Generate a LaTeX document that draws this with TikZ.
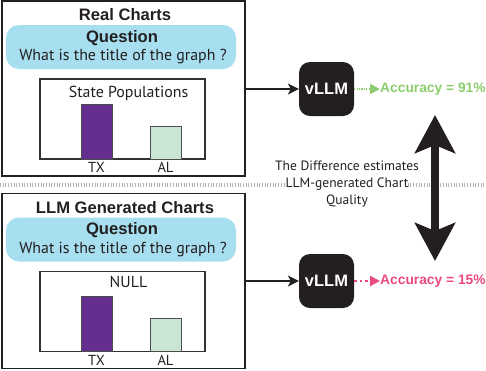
\documentclass[tikz,border=0pt]{standalone}
\usepackage{fontspec}
\setsansfont{Liberation Sans}
\newfontfamily\bodyfont{PT Sans}
\usepackage{xcolor}
\usetikzlibrary{arrows.meta}
\definecolor{bubbleblue}{RGB}{168,223,240}
\definecolor{txpurple}{RGB}{102,45,145}
\definecolor{alsage}{RGB}{201,230,212}
\definecolor{accgreen}{RGB}{140,204,110}
\definecolor{accpink}{RGB}{233,74,130}
\definecolor{inkblack}{RGB}{35,31,32}

\begin{document}
\begin{tikzpicture}[x=1pt,y=-1pt,
  panel/.style={draw=inkblack, line width=1.3pt, minimum width=243pt, minimum height=175pt, inner sep=0pt},
  bubble/.style={fill=bubbleblue, rounded corners=13pt, minimum width=230pt, minimum height=44pt, inner sep=0pt},
  heading/.style={font=\sffamily\bfseries\fontsize{16.6}{18}\selectfont, text=inkblack, inner sep=0pt},
  body/.style={font=\bodyfont\fontsize{15.9}{18}\selectfont, text=inkblack, inner sep=0pt},
  axislabel/.style={font=\bodyfont\fontsize{14.5}{16}\selectfont, text=inkblack, inner sep=0pt},
  chartframe/.style={draw=black!80, line width=1.5pt},
  bar/.style={draw=black!70, line width=1pt},
  vllm/.style={fill=inkblack, rounded corners=11pt, minimum width=55pt, minimum height=54pt, inner sep=0pt,
    text=white, font=\sffamily\bfseries\fontsize{16.5}{18}\selectfont},
  acc/.style={font=\sffamily\bfseries\fontsize{13.8}{15}\selectfont, inner sep=0pt, anchor=west},
  feed/.style={draw=inkblack, line width=1.2pt, -{Stealth[length=11pt,width=11pt,inset=3pt]}},
  score/.style={line width=2pt, -{Triangle[length=10pt,width=10pt]}},
  separator/.style={draw=black!30, line width=4pt, dash pattern=on 1pt off 1.7pt},
  note/.style={font=\bodyfont\fontsize{13.5}{17}\selectfont, text=inkblack, align=center, inner sep=0pt},
  diffarrow/.style={draw=inkblack, line width=8pt,
    {Stealth[length=38pt,width=40pt,inset=8pt]}-{Stealth[length=38pt,width=40pt,inset=8pt]}}
]
\useasboundingbox (0,0) rectangle (486,370);

% the two chart panels
\foreach \oy/\ty/\nm/\ttl/\ctl in {0/93/real/Real Charts/State Populations, 192.5/281.5/gen/LLM Generated Charts/NULL}{
  \node[panel] (\nm-box) at (123.5,88.5+\oy) {};
  \node[heading] (\nm-title) at (125,15+\oy) {\ttl};
  \node[bubble] (\nm-q) at (121,47+\oy) {};
  \node[heading] (\nm-qhead) at (122,38+\oy) {Question};
  \node[body] (\nm-qtext) at (123,57+\oy) {What is the title of the graph ?};
  \draw[chartframe] (40,79+\oy) rectangle (205,159+\oy);
  \node[body] (\nm-ctitle) at (128.5,\ty) {\ctl};
  \draw[bar, fill=txpurple] (81,104+\oy) rectangle (112,159+\oy);
  \draw[bar, fill=alsage] (150,126+\oy) rectangle (181,159+\oy);
  \node[axislabel] (\nm-tx) at (96.5,167.5+\oy) {TX};
  \node[axislabel] (\nm-al) at (165.5,167.5+\oy) {AL};
}

\draw[separator] (0,185) -- (486,185);

% models and scores
\node[vllm] (vllm-real) at (326.5,89) {vLLM};
\node[vllm] (vllm-gen) at (326.5,281) {vLLM};
\node[acc, text=accgreen] (acc-real) at (380,89) {Accuracy = 91\%};
\node[acc, text=accpink] (acc-gen) at (380,281) {Accuracy = 15\%};

\draw[feed] (real-box.east |- vllm-real.west) -- (vllm-real.west);
\draw[feed] (gen-box.east |- vllm-gen.west) -- (vllm-gen.west);
\draw[score, accgreen, dash pattern=on 1.2pt off 1.2pt] (vllm-real.east) -- (acc-real.west);
\draw[score, accpink, dash pattern=on 2.5pt off 3pt] (vllm-gen.east) -- (acc-gen.west);

\coordinate (diff-top) at (435,115);
\coordinate (diff-bot) at (435,261);
\draw[diffarrow] (diff-top) -- (diff-bot);
\node[note] (diff-note) at (347,184) {The Difference estimates\\{\setlength{\fboxsep}{0pt}\colorbox{white}{LLM-generated Chart}}\\Quality};
\end{tikzpicture}
\end{document}
